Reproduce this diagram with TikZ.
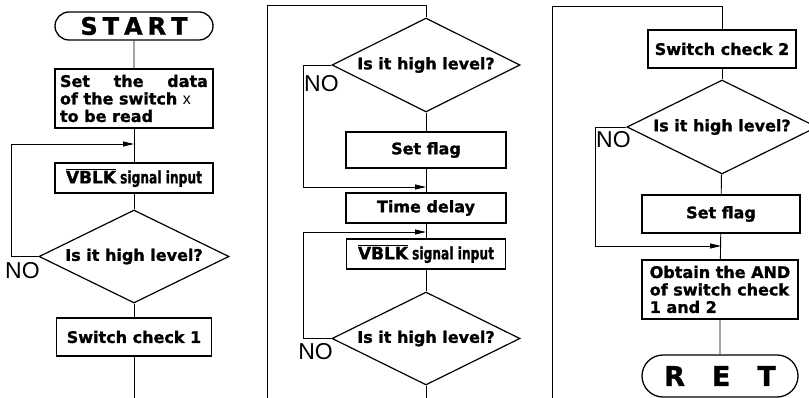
\documentclass[tikz,border=0pt]{standalone}
\usepackage{fontspec}
\usepackage{graphicx}
\setmainfont{DejaVu Sans}[BoldFeatures={FakeBold=1.2}]
\newfontfamily\thinfont{Liberation Sans}
\usetikzlibrary{shapes.misc,shapes.geometric,arrows.meta}
\tikzstyle{box}=[draw, line width=1.3pt, minimum width=158pt, minimum height=30pt, inner sep=3pt, font=\bfseries\fontsize{16}{17.5}\selectfont]
\tikzstyle{term}=[draw, rounded rectangle, line width=1.3pt, minimum width=158pt, inner sep=0pt, font=\bfseries]
\tikzstyle{test}=[draw, diamond, aspect=2, line width=1.2pt, minimum width=190pt, minimum height=93pt, inner sep=0pt, font=\bfseries\fontsize{16}{17.5}\selectfont]
\tikzstyle{no}=[inner sep=0pt, font=\thinfont\fontsize{23}{23}\selectfont]
\tikzstyle{flow}=[line width=0.9pt]
\tikzstyle{back}=[flow, -{Triangle[length=11pt,width=5pt]}]
\newcommand{\vblkin}{{\fontsize{17}{17}\selectfont$\overline{\mbox{VBLK}}$\hspace{4pt}\scalebox{0.72}[1]{signal input}}}

\begin{document}
\begin{tikzpicture}[x=1pt, y=-1pt]
\fill[white] (0,0) rectangle (809,398);
\useasboundingbox (0,0) rectangle (809,398);
% Column 1
    \node[term, minimum height=28pt] (start) at (134,26) {\fontsize{24}{24}\selectfont S\hspace{5pt}T\hspace{5pt}A\hspace{5pt}R\hspace{5pt}T};
    \node[box, minimum height=59pt, align=left] (setdata) at (134,98.5) {\makebox[148pt][s]{Set the data}\\of the switch {\thinfont\mdseries x}\\to be read};
    \node[box] (vblka) at (134,178) {\vblkin};
    \node[test] (testa) at (134,256.5) {Is it high level?};
    \node[box, minimum width=155pt, minimum height=38pt] (checka) at (134,337) {Switch check 1};
    \coordinate (outa) at (134,398);
    \coordinate (loopa) at (11,144);
    \coordinate (mrga) at (134,144);
    \node[no, anchor=north west] (noa) at (5,262) {NO};
    \draw[flow] (start) -- (setdata);
    \draw[flow] (setdata) -- (vblka);
    \draw[flow] (vblka) -- (testa);
    \draw[flow] (testa) -- (checka);
    \draw[flow] (checka) -- (outa);
    \draw[back] (testa.west) -| (loopa) -- (mrga);
% Column 2
    \coordinate (inb) at (267,398);
    \coordinate (topb) at (426,5);
    \node[test, minimum width=188pt, minimum height=94pt] (testb) at (426,65) {Is it high level?};
    \node[box, minimum width=160pt, minimum height=36pt] (flagb) at (426,150) {Set flag};
    \node[box, minimum width=160pt] (delay) at (426,208) {Time delay};
    \node[box, minimum width=159pt] (vblkb) at (426,254) {\vblkin};
    \node[test, minimum width=188pt] (testc) at (426,338.5) {Is it high level?};
    \coordinate (outb) at (426,398);
    \coordinate (loopb) at (303,187);
    \coordinate (mrgb) at (426,187);
    \coordinate (loopc) at (303,232);
    \coordinate (mrgc) at (426,232);
    \node[no, anchor=north west] (nob) at (304,75) {NO};
    \node[no, anchor=north east] (noc) at (333,343) {NO};
    \draw[flow] (inb) |- (topb) -- (testb);
    \draw[flow] (testb) -- (flagb);
    \draw[flow] (flagb) -- (delay);
    \draw[flow] (delay) -- (vblkb);
    \draw[flow] (vblkb) -- (testc);
    \draw[flow] (testc) -- (outb);
    \draw[back] (testb.west) -| (loopb) -- (mrgb);
    \draw[back] (testc.west) -| (loopc) -- (mrgc);
% Column 3
    \coordinate (inc) at (552,398);
    \coordinate (topc) at (722,6);
    \node[box, minimum width=148pt, minimum height=38pt] (checkb) at (722,49) {Switch check 2};
    \node[test, minimum height=94pt] (testd) at (722,127) {Is it high level?};
    \node[box, minimum height=38pt] (flagc) at (721,214) {Set flag};
    \node[box, minimum width=156pt, minimum height=59pt, align=left] (andsw) at (720,289.5) {Obtain the AND\\of switch check\\1 and 2};
    \node[term, minimum width=156pt, minimum height=42pt] (ret) at (720,376) {\fontsize{27}{27}\selectfont R\hspace{27pt}E\hspace{27pt}T};
    \coordinate (loopd) at (595,246);
    \coordinate (mrgd) at (721,246);
    \node[no, anchor=north west] (nod) at (596,131) {NO};
    \draw[flow] (inc) |- (topc) -- (checkb);
    \draw[flow] (checkb) -- (testd);
    \draw[flow] (testd) -- (flagc);
    \draw[flow] (flagc) -- (andsw);
    \draw[flow] (andsw) -- (ret);
    \draw[back] (testd.west) -| (loopd) -- (mrgd);
\end{tikzpicture}
\end{document}
